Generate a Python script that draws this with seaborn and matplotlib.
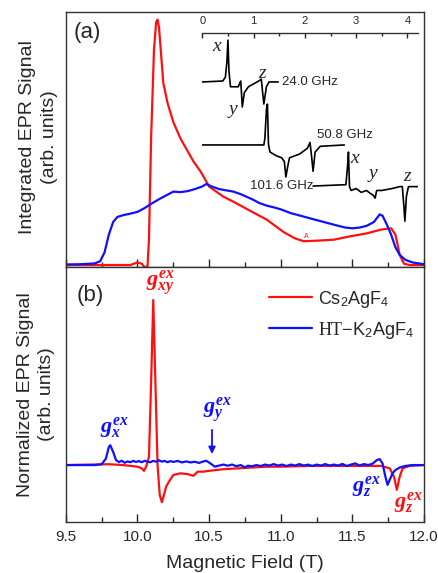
import matplotlib
matplotlib.use('Agg')
import matplotlib.pyplot as plt
import seaborn as sns
from matplotlib.ticker import MultipleLocator

# (a) integrated EPR signal
field_a_red = [9.5, 9.95, 10.0, 10.03, 10.05, 10.07, 10.08, 10.095, 10.115, 10.13, 10.14, 10.15, 10.18,
               10.21, 10.25, 10.3, 10.35, 10.39, 10.44, 10.5, 10.6, 10.67, 10.8, 10.9, 11.02, 11.1,
               11.16, 11.25, 11.37, 11.48, 11.6, 11.7, 11.77, 11.8, 11.83, 11.86, 11.9, 12.0]
signal_a_red = [0, 0, 0.01, 0.005, -0.01, -0.005, 0.1, 0.5, 0.85, 0.96, 0.97, 0.94, 0.72,
                0.64, 0.565, 0.5, 0.45, 0.41, 0.37, 0.31, 0.27, 0.25, 0.21, 0.18, 0.13, 0.105,
                0.094, 0.096, 0.1, 0.113, 0.125, 0.14, 0.145, 0.12, 0.04, 0.005, 0, 0]

field_a_blue = [9.5, 9.6, 9.7, 9.74, 9.77, 9.8, 9.83, 9.86, 9.9, 9.95, 10.0, 10.05, 10.09, 10.15, 10.2,
                10.25, 10.3, 10.35, 10.4, 10.45, 10.48, 10.52, 10.57, 10.62, 10.67, 10.72, 10.8, 10.85,
                10.9, 10.95, 11.0, 11.07, 11.13, 11.2, 11.3, 11.4, 11.45, 11.5, 11.55, 11.6, 11.65,
                11.69, 11.71, 11.74, 11.77, 11.8, 11.83, 11.87, 11.92, 12.0]
signal_a_blue = [0.002, 0.003, 0.006, 0.015, 0.05, 0.12, 0.17, 0.19, 0.197, 0.203, 0.21, 0.225, 0.24,
                 0.26, 0.275, 0.29, 0.288, 0.292, 0.3, 0.31, 0.32, 0.31, 0.3, 0.295, 0.29, 0.28, 0.26,
                 0.245, 0.235, 0.228, 0.22, 0.205, 0.196, 0.185, 0.17, 0.155, 0.148, 0.145, 0.148,
                 0.155, 0.17, 0.2, 0.195, 0.16, 0.12, 0.07, 0.04, 0.02, 0.01, 0.003]

# (b) normalized EPR signal
field_b_red = [9.5, 9.8, 9.9, 10.0, 10.03, 10.045, 10.06, 10.08, 10.095, 10.11, 10.125, 10.14, 10.155,
               10.17, 10.185, 10.2, 10.22, 10.25, 10.3, 10.35, 10.39, 10.42, 10.46, 10.5, 10.6, 10.7,
               10.8, 10.9, 11.0, 11.2, 11.5, 11.7, 11.76, 11.79, 11.81, 11.83, 11.85, 11.9, 12.0]
signal_b_red = [0, 0.005, 0, -0.01, -0.02, -0.035, -0.01, 0.05, 0.5, 1.0, 0.5, 0.0, -0.18,
                -0.225, -0.18, -0.13, -0.1, -0.06, -0.05, -0.055, -0.065, -0.04, -0.04, -0.035, -0.025,
                -0.02, -0.015, -0.01, -0.01, -0.005, -0.005, -0.005, -0.02, -0.07, -0.15, -0.07,
                -0.02, -0.005, 0]

field_b_blue = [9.5, 9.7, 9.75, 9.78, 9.8, 9.81, 9.83, 9.85, 9.87, 9.89, 9.91, 9.93, 9.95, 9.97, 9.99,
                10.01, 10.03, 10.05, 10.07, 10.09, 10.11, 10.13, 10.15, 10.17, 10.19, 10.21, 10.23,
                10.25, 10.28, 10.31, 10.34, 10.37, 10.4, 10.43, 10.46, 10.48, 10.5, 10.52, 10.54,
                10.57, 10.6, 10.63, 10.66, 10.69, 10.72, 10.75, 10.77, 10.8, 10.83, 10.86, 10.89,
                10.92, 10.95, 10.98, 11.01, 11.04, 11.07, 11.1, 11.13, 11.16, 11.19, 11.22, 11.25,
                11.28, 11.31, 11.34, 11.37, 11.4, 11.43, 11.46, 11.49, 11.52, 11.55, 11.58, 11.61,
                11.64, 11.67, 11.69, 11.71, 11.73, 11.745, 11.76, 11.78, 11.8, 11.83, 11.87, 11.92, 12.0]
signal_b_blue = [0, 0, 0.005, 0.04, 0.11, 0.12, 0.08, 0.03, 0.018, 0.026, 0.014, 0.022, 0.017, 0.025,
                 0.019, 0.024, 0.017, 0.026, 0.02, 0.017, 0.026, 0.02, 0.029, 0.021, 0.025, 0.017,
                 0.024, 0.019, 0.025, 0.016, 0.022, 0.016, 0.02, 0.013, 0.022, 0.026, 0.015, 0.003,
                 -0.01, -0.003, 0.003, -0.004, 0.003, -0.007, 0.0, -0.014, -0.004, -0.007, 0.0,
                 -0.006, 0.003, -0.003, 0.006, -0.003, 0.003, -0.006, 0.003, -0.003, 0.006, -0.003,
                 0.003, -0.006, 0.003, -0.003, 0.006, -0.003, 0.003, -0.003, 0.007, -0.006, 0.003,
                 0.01, -0.003, 0.006, 0.0, 0.008, 0.03, 0.036, 0.01, -0.07, -0.12, -0.09, -0.05,
                 -0.03, -0.015, -0.005, 0, 0]

# inset spectra (field offset, arbitrary vertical offset)
ins_24_x = [0, 0.4, 0.45, 0.48, 0.5, 0.52, 0.55, 0.7, 0.75, 0.78, 0.82, 0.9, 1.1, 1.15, 1.2, 1.25, 1.3, 1.48]
ins_24_y = [0.745, 0.75, 0.77, 0.85, 0.963, 0.8, 0.72, 0.72, 0.75, 0.615, 0.69, 0.72, 0.75, 0.76, 0.63,
            0.72, 0.745, 0.745]
ins_51_x = [0, 1.2, 1.22, 1.25, 1.27, 1.29, 1.32, 1.45, 1.55, 1.6, 1.63, 1.66, 1.7, 1.9, 2.05, 2.1,
            2.13, 2.16, 2.2, 2.3, 2.77]
ins_51_y = [0.417, 0.417, 0.45, 0.6, 0.63, 0.42, 0.38, 0.36, 0.35, 0.33, 0.25, 0.297, 0.35, 0.37, 0.4,
            0.43, 0.36, 0.28, 0.38, 0.41, 0.417]
ins_102_x = [2.16, 2.8, 2.83, 2.85, 2.87, 2.9, 3.0, 3.1, 3.2, 3.3, 3.33, 3.37, 3.4, 3.5, 3.7, 3.85,
             3.9, 3.93, 3.95, 3.98, 4.02, 4.1, 4.2]
ins_102_y = [0.203, 0.21, 0.3, 0.38, 0.2, 0.18, 0.19, 0.17, 0.18, 0.16, 0.156, 0.14, 0.18, 0.18, 0.19,
             0.2, 0.2, 0.1, 0.02, 0.15, 0.2, 0.2, 0.2]

red = '#ff1010'
blue = '#1010ff'

sns.set_style('ticks')
plt.rcParams['font.family'] = ['Liberation Sans', 'DejaVu Sans']
plt.rcParams['mathtext.fontset'] = 'custom'
plt.rcParams['mathtext.rm'] = 'Liberation Sans'
plt.rcParams['mathtext.it'] = 'Liberation Serif:italic:bold'
plt.rcParams['mathtext.tt'] = 'Liberation Serif'

fig = plt.figure(figsize=(4.39, 5.73), dpi=100)
ax_a = fig.add_axes([0.150, 0.534, 0.816, 0.445])
ax_b = fig.add_axes([0.150, 0.089, 0.816, 0.445], sharex=ax_a)

sns.lineplot(x=field_a_red, y=signal_a_red, color=red, lw=1.6, ax=ax_a, estimator=None, sort=False)
sns.lineplot(x=field_a_blue, y=signal_a_blue, color=blue, lw=1.6, ax=ax_a, estimator=None, sort=False)
sns.lineplot(x=field_b_red, y=signal_b_red, color=red, lw=1.6, ax=ax_b, estimator=None, sort=False,
             label='Cs$_2$AgF$_4$')
sns.lineplot(x=field_b_blue, y=signal_b_blue, color=blue, lw=1.6, ax=ax_b, estimator=None, sort=False,
             label=r'$\mathtt{HT}$−K$_2$AgF$_4$')

for ax in (ax_a, ax_b):
    ax.set_xlim(9.5, 12.0)
    ax.xaxis.set_major_locator(MultipleLocator(0.5))
    ax.xaxis.set_minor_locator(MultipleLocator(0.25))
    ax.tick_params(axis='x', which='major', direction='in', length=6, width=1, labelsize=11, pad=6)
    ax.tick_params(axis='x', which='minor', direction='in', length=3.5, width=1)
    ax.set_yticks([])
    for s in ax.spines.values():
        s.set_linewidth(1.0)
        s.set_color('#333333')
        s.set_visible(True)

ax_a.set_ylim(-0.008, 1.0)
ax_b.set_ylim(-0.345, 1.2)
ax_a.tick_params(axis='x', labelbottom=False)
ax_a.set_xlabel('')
ax_a.set_ylabel('Integrated EPR Signal\n(arb. units)', fontsize=14, linespacing=1.35)
ax_b.set_ylabel('Normalized EPR Signal\n(arb. units)', fontsize=14, linespacing=1.35)
ax_a.yaxis.set_label_coords(-0.022, 0.51)
ax_b.yaxis.set_label_coords(-0.03, 0.50)
ax_b.set_xlabel('Magnetic Field (T)', fontsize=14, labelpad=8)

ax_a.text(0.061, 0.918, '(a)', transform=ax_a.transAxes, fontsize=16, ha='center', va='center')
ax_b.text(0.067, 0.89, '(b)', transform=ax_b.transAxes, fontsize=16, ha='center', va='center')
ax_a.text(11.18, 0.112, 'A', fontsize=5, color=red, ha='center', va='center')

ax_b.legend(loc='upper left', bbox_to_anchor=(0.567, 0.915), frameon=False, fontsize=13,
            handlelength=2.4, labelspacing=0.55, borderaxespad=0, borderpad=0, handletextpad=0.3)

gsize = 16
ax_b.text(10.16, 1.10, r'$g^{ex}_{xy}$', color=red, fontsize=gsize, ha='center', va='center')
ax_b.text(9.84, 0.23, r'$g^{ex}_{x}$', color=blue, fontsize=gsize, ha='center', va='center')
ax_b.text(10.56, 0.33, r'$g^{ex}_{y}$', color=blue, fontsize=gsize, ha='center', va='center')
ax_b.text(11.6, -0.13, r'$g^{ex}_{z}$', color=blue, fontsize=gsize, ha='center', va='center')
ax_b.text(11.89, -0.225, r'$g^{ex}_{z}$', color=red, fontsize=gsize, ha='center', va='center')
ax_b.annotate('', xy=(10.52, 0.05), xytext=(10.52, 0.23),
              arrowprops=dict(arrowstyle='-|>', color=blue, lw=1.3, mutation_scale=10))

# inset with spectra at several frequencies
ax_in = fig.add_axes([0.4608, 0.6073, 0.4907, 0.3351])
ax_in.patch.set_alpha(0)
for name in ('left', 'right', 'bottom'):
    ax_in.spines[name].set_visible(False)
ax_in.spines['top'].set_linewidth(1.0)
ax_in.spines['top'].set_color('#333333')
sns.lineplot(x=ins_24_x, y=ins_24_y, color='black', lw=1.2, ax=ax_in, estimator=None, sort=False)
sns.lineplot(x=ins_51_x, y=ins_51_y, color='black', lw=1.2, ax=ax_in, estimator=None, sort=False)
sns.lineplot(x=ins_102_x, y=ins_102_y, color='black', lw=1.2, ax=ax_in, estimator=None, sort=False)
ax_in.set_xlim(0, 4.2)
ax_in.set_ylim(0, 1)
ax_in.set_yticks([])
ax_in.xaxis.tick_top()
ax_in.xaxis.set_major_locator(MultipleLocator(1))
ax_in.xaxis.set_minor_locator(MultipleLocator(0.5))
ax_in.tick_params(axis='x', which='major', direction='in', length=3.5, width=1, labelsize=8, pad=5)
ax_in.tick_params(axis='x', which='minor', direction='in', length=2, width=1)
ax_in.set_xlabel('')

ax_in.text(1.56, 0.745, '24.0 GHz', fontsize=9.5, ha='left', va='center')
ax_in.text(2.24, 0.47, '50.8 GHz', fontsize=9.5, ha='left', va='center')
ax_in.text(2.16, 0.203, '101.6 GHz', fontsize=9.5, ha='right', va='center')
letter_kw = dict(family=['Liberation Serif', 'DejaVu Serif'], style='italic', fontsize=14,
                 ha='center', va='center')
ax_in.text(0.28, 0.93, 'x', **letter_kw)
ax_in.text(0.6, 0.6, 'y', **letter_kw)
ax_in.text(1.17, 0.79, 'z', **letter_kw)
ax_in.text(2.97, 0.345, 'x', **letter_kw)
ax_in.text(3.33, 0.27, 'y', **letter_kw)
ax_in.text(3.99, 0.255, 'z', **letter_kw)

fig.savefig('out.png', dpi=100)
